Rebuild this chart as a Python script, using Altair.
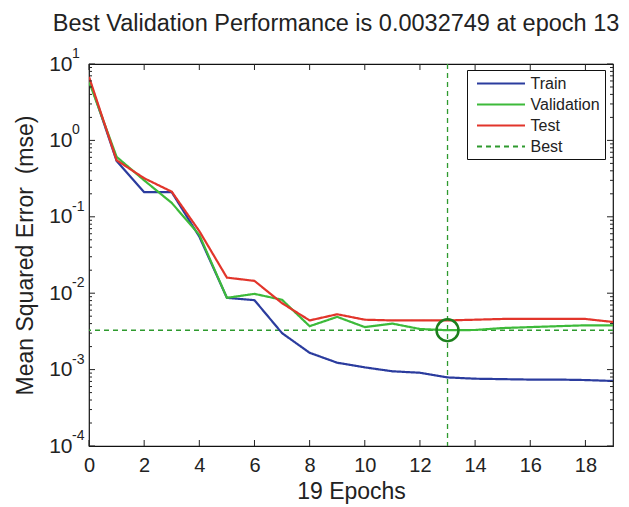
import altair as alt
import pandas as pd

# ---------------- data ----------------
epochs = list(range(20))
train = [6.4, 0.54, 0.21, 0.21, 0.055, 0.0087, 0.0081, 0.0030, 0.00166, 0.00123,
         0.00107, 0.00095, 0.00091, 0.00079, 0.00076, 0.00075, 0.00074, 0.00074,
         0.00073, 0.00071]
validation = [5.9, 0.61, 0.30, 0.152, 0.058, 0.0087, 0.0098, 0.0082, 0.0037, 0.0049,
              0.0036, 0.0040, 0.0034, 0.0032749, 0.0033, 0.0035, 0.0036, 0.0037,
              0.0038, 0.0038]
test = [6.8, 0.55, 0.32, 0.213, 0.065, 0.016, 0.0145, 0.0074, 0.0044, 0.0053,
        0.0045, 0.0044, 0.0044, 0.0044, 0.0045, 0.0046, 0.0046, 0.0046, 0.0046,
        0.0042]
best_epoch = 13
best_perf = 0.0032749

series_names = ["Train", "Validation", "Test", "Best"]
series_colors = ["#2B3C9E", "#3DBA3A", "#E2352B", "#2E9A2E"]
series_dash = [[1, 0], [1, 0], [1, 0], [5, 4]]

x_tick_values = list(range(0, 19, 2))
decades = [10.0, 1.0, 0.1, 0.01, 0.001, 0.0001]
decade_exps = ["1", "0", "-1", "-2", "-3", "-4"]
minor_ticks = [m * d for d in [0.0001, 0.001, 0.01, 0.1, 1.0] for m in range(2, 10)]

title_text = "Best Validation Performance is 0.0032749 at epoch 13"
x_title = "19 Epochs"
y_title = "Mean Squared Error \u00a0(mse)"

# ---------------- tables ----------------
rows = []
for name, vals in [("Train", train), ("Validation", validation), ("Test", test)]:
    for e, v in zip(epochs, vals):
        rows.append({"epoch": e, "mse": v, "series": name})
lines_df = pd.DataFrame(rows)
best_h = pd.DataFrame({"mse": [best_perf], "series": ["Best"]})
best_v = pd.DataFrame({"epoch": [best_epoch], "series": ["Best"]})
best_pt = pd.DataFrame({"epoch": [best_epoch], "mse": [best_perf]})
xt_df = pd.DataFrame({"epoch": x_tick_values})
dec_df = pd.DataFrame({"mse": decades, "exp": decade_exps})
minor_df = pd.DataFrame({"mse": minor_ticks})

W, H = 524, 382
FONT = "Liberation Sans"
TXT = "#222222"

xscale = alt.Scale(domain=[0, 19], nice=False, zero=False)
yscale = alt.Scale(type="log", domain=[0.0001, 10], nice=False)

X = alt.X("epoch:Q", scale=xscale,
          axis=alt.Axis(values=x_tick_values, title=x_title, ticks=False, domain=False,
                        grid=False, labelFontSize=20, labelPadding=9, labelFlush=False,
                        titleFontSize=23, titlePadding=5, titleFontWeight="normal",
                        labelFont=FONT, titleFont=FONT, labelColor=TXT, titleColor=TXT))
Y = alt.Y("mse:Q", scale=yscale,
          axis=alt.Axis(values=decades, labelExpr="'10'", title=y_title, ticks=False,
                        domain=False, grid=False, labelFontSize=21, labelPadding=17,
                        titleFontSize=23, titlePadding=11, titleFontWeight="normal",
                        labelFont=FONT, titleFont=FONT, labelColor=TXT, titleColor=TXT))
Xp = alt.X("epoch:Q", scale=xscale)
Yp = alt.Y("mse:Q", scale=yscale)

color = alt.Color("series:N", title=None,
                  scale=alt.Scale(domain=series_names, range=series_colors),
                  sort=series_names)
dash = alt.StrokeDash("series:N", title=None,
                      scale=alt.Scale(domain=series_names, range=series_dash),
                      sort=series_names)

lines = alt.Chart(lines_df).mark_line(strokeWidth=2.2, clip=True).encode(
    x=X, y=Y, color=color, strokeDash=dash)

hrule = alt.Chart(best_h).mark_rule(strokeWidth=1.3).encode(
    y=Yp, color=color, strokeDash=dash)
vrule = alt.Chart(best_v).mark_rule(strokeWidth=1.3, color="#2E9A2E",
                                    strokeDash=[5, 4]).encode(x=Xp)

circle = alt.Chart(best_pt).mark_point(shape="circle", size=480, filled=False,
                                       strokeWidth=2.5, color="#1C7F1C", opacity=1).encode(x=Xp, y=Yp)

tick_col = "#222222"
xt_bot = alt.Chart(xt_df).mark_rule(color=tick_col, strokeWidth=1).encode(
    x=Xp, y=alt.value(H), y2=alt.value(H - 6))
xt_top = alt.Chart(xt_df).mark_rule(color=tick_col, strokeWidth=1).encode(
    x=Xp, y=alt.value(0), y2=alt.value(6))
yt_left = alt.Chart(dec_df).mark_rule(color=tick_col, strokeWidth=1).encode(
    y=Yp, x=alt.value(0), x2=alt.value(6))
yt_right = alt.Chart(dec_df).mark_rule(color=tick_col, strokeWidth=1).encode(
    y=Yp, x=alt.value(W), x2=alt.value(W - 6))
ym_left = alt.Chart(minor_df).mark_rule(color=tick_col, strokeWidth=1).encode(
    y=Yp, x=alt.value(0), x2=alt.value(3))
ym_right = alt.Chart(minor_df).mark_rule(color=tick_col, strokeWidth=1).encode(
    y=Yp, x=alt.value(W), x2=alt.value(W - 3))

exps = alt.Chart(dec_df).mark_text(align="left", baseline="middle", dy=-10,
                                   fontSize=14, font=FONT, color=TXT).encode(
    y=Yp, x=alt.value(-17), text="exp:N")

chart = alt.layer(
    hrule, vrule, lines, circle,
    xt_bot, xt_top, yt_left, yt_right, ym_left, ym_right, exps
).properties(
    width=W, height=H,
    title=alt.TitleParams(title_text, fontSize=23.5, fontWeight="normal", font=FONT,
                          color=TXT, anchor="middle", dx=-15, offset=12),
    autosize=alt.AutoSizeParams(type="none"),
    padding={"left": 81, "top": 56, "right": 8, "bottom": 58},
).configure_view(stroke="#111111", strokeWidth=1.2).configure_legend(
    orient="none", legendX=378, legendY=6, fillColor="white", strokeColor="#111111",
    padding=4.5, labelFontSize=16, labelFont=FONT, labelColor=TXT,
    symbolType="M-3,0H3", symbolSize=256, symbolStrokeWidth=2,
    symbolOffset=20.5, labelOffset=20.5, rowPadding=4, offset=0)

chart.save("out.html", embed_options={"renderer": "svg", "actions": False})
